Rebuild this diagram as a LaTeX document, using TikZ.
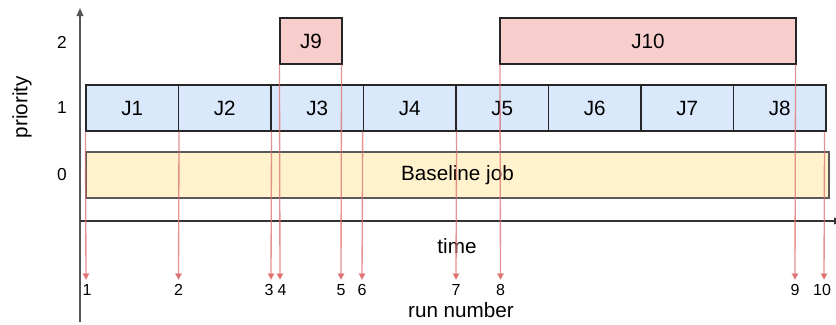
\documentclass[tikz,border=0pt]{standalone}
\usepackage{fontspec}
\setmainfont{Liberation Sans}
\usetikzlibrary{arrows.meta}
\definecolor{jblue}{HTML}{DAE8FC}
\definecolor{jpink}{HTML}{F8CECC}
\definecolor{jyellow}{HTML}{FFF2CC}
\definecolor{runred}{RGB}{222,110,110}
\definecolor{axisgray}{HTML}{555555}
\tikzset{
  jbox/.style={draw=black!85, line width=0.8pt, inner sep=0pt, minimum height=46*0.75pt,
    font=\fontsize{15.5}{18}\selectfont},
  lowjob/.style={jbox, fill=jblue, minimum width=92.5*0.75pt},
  highjob/.style={jbox, fill=jpink},
  basejob/.style={jbox, fill=jyellow, draw=black!65},
  runarrow/.style={draw=runred, draw opacity=0.75, line width=1pt,
    -{Triangle[width=5pt,length=5pt,color=runred]}},
  num/.style={inner sep=0pt, anchor=base, font=\fontsize{12}{14}\selectfont},
  biglabel/.style={inner sep=0pt, font=\fontsize{15.5}{18}\selectfont},
  axis/.style={line width=1.1pt},
}
\begin{document}
\begin{tikzpicture}[x=0.75pt,y=-0.75pt]
\useasboundingbox (0,0) rectangle (836,325);
% axes
\coordinate (yb) at (80,322);
\coordinate (yt) at (80,8);
\coordinate (xl) at (80,221);
\coordinate (xr) at (842,221);
\draw[axis, draw=axisgray, -{Triangle[width=5pt,length=6pt]}] (yb) -- (yt);
\draw[axis, draw=black!80, -{Triangle[width=5pt,length=6pt]}] (xl) -- (xr);
% priority labels
\node[biglabel, rotate=90] (prio) at (22,107) {priority};
\node[inner sep=0pt, font=\fontsize{13}{15}\selectfont] (p2) at (62,42) {2};
\node[inner sep=0pt, font=\fontsize{13}{15}\selectfont] (p1) at (62,108) {1};
\node[inner sep=0pt, font=\fontsize{13}{15}\selectfont] (p0) at (62,175) {0};
% baseline job
\node[basejob, minimum width=743*0.75pt] (base) at (457.5,175) {Baseline job};
% priority 1 jobs
\node[lowjob] (j1) at (132.25,108) {J1};
\node[lowjob] (j2) at (224.75,108) {J2};
\node[lowjob] (j3) at (317.25,108) {J3};
\node[lowjob] (j4) at (409.75,108) {J4};
\node[lowjob] (j5) at (502.25,108) {J5};
\node[lowjob] (j6) at (594.75,108) {J6};
\node[lowjob] (j7) at (687.25,108) {J7};
\node[lowjob] (j8) at (779.75,108) {J8};
% priority 2 jobs
\node[highjob, minimum width=62*0.75pt] (j9) at (311,41) {J9};
\node[highjob, minimum width=296*0.75pt] (j10) at (648,41) {J10};
% axis texts
\node[biglabel, anchor=base] (time) at (457,253) {time};
\node[biglabel, anchor=base] (runnum) at (461,317) {run number};
% run number labels
\node[num] (n1) at (87,295) {1};
\node[num] (n2) at (178.5,295) {2};
\node[num] (n3) at (269,295) {3};
\node[num] (n4) at (282,295) {4};
\node[num] (n5) at (341,295) {5};
\node[num] (n6) at (362,295) {6};
\node[num] (n7) at (456,295) {7};
\node[num] (n8) at (500.5,295) {8};
\node[num] (n9) at (795,295) {9};
\node[num] (n10) at (822,295) {10};
% arrow tips
\coordinate (t1) at (86,280);
\coordinate (t2) at (178.5,280);
\coordinate (t3) at (271,280);
\coordinate (t4) at (280,280);
\coordinate (t5) at (341,280);
\coordinate (t6) at (362,280);
\coordinate (t7) at (456,280);
\coordinate (t8) at (500.5,280);
\coordinate (t9) at (795,280);
\coordinate (t10) at (824,280);
% run arrows
\draw[runarrow] (j1.south west) -- (t1);
\draw[runarrow] (j1.south east) -- (t2);
\draw[runarrow] (j2.south east) -- (t3);
\draw[runarrow] (j9.south west) -- (t4);
\draw[runarrow] ([xshift=-0.75pt]j9.south east) -- (t5);
\draw[runarrow] ([xshift=-1pt]j3.south east) -- (t6);
\draw[runarrow] (j4.south east) -- (t7);
\draw[runarrow] ([xshift=0.375pt]j10.south west) -- (t8);
\draw[runarrow] ([xshift=-0.75pt]j10.south east) -- (t9);
\draw[runarrow] ([xshift=-1.5pt]j8.south east) -- (t10);
\end{tikzpicture}
\end{document}
